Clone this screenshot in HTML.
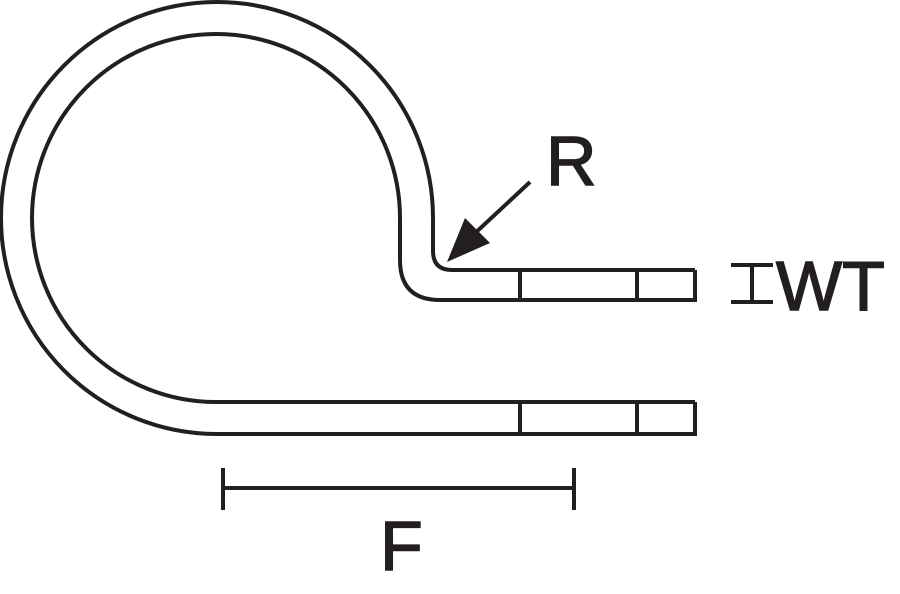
<!DOCTYPE html>
<html><head><meta charset="utf-8"><style>html,body{margin:0;padding:0;background:#fff;}svg{display:block}</style></head>
<body>
<svg width="900" height="594" viewBox="0 0 900 594" xmlns="http://www.w3.org/2000/svg">
<g fill="none" stroke="#231f20" stroke-width="4">
<path d="M695 270 L452 270 Q433 270 433 251 L433 218 A216 216 0 1 0 216 434 L695 434 L695 402"/>
<path d="M695 270 L695 300 L440 300 Q400 300 400 260 L400 218 A184 184 0 1 0 216 402 L695 402"/>
<line x1="520" y1="270" x2="520" y2="300"/>
<line x1="637" y1="270" x2="637" y2="300"/>
<line x1="520" y1="402" x2="520" y2="434"/>
<line x1="637" y1="402" x2="637" y2="434"/>
<line x1="530" y1="182" x2="472" y2="236"/>
<line x1="223" y1="488" x2="574" y2="488"/>
<line x1="223" y1="468" x2="223" y2="510"/>
<line x1="574" y1="468" x2="574" y2="510"/>
<line x1="731" y1="265" x2="773" y2="265"/>
<line x1="731" y1="302" x2="773" y2="302"/>
<line x1="752" y1="265" x2="752" y2="302"/>
</g>
<polygon points="447,262 465,218 490,243" fill="#231f20"/>
<g font-family="Liberation Sans, sans-serif" fill="#231f20" stroke="#231f20" stroke-width="1.5" font-size="70">
<text x="546" y="185">R</text>
<text x="776" y="310">WT</text>
<text x="380" y="570">F</text>
</g>
</svg>
</body></html>
